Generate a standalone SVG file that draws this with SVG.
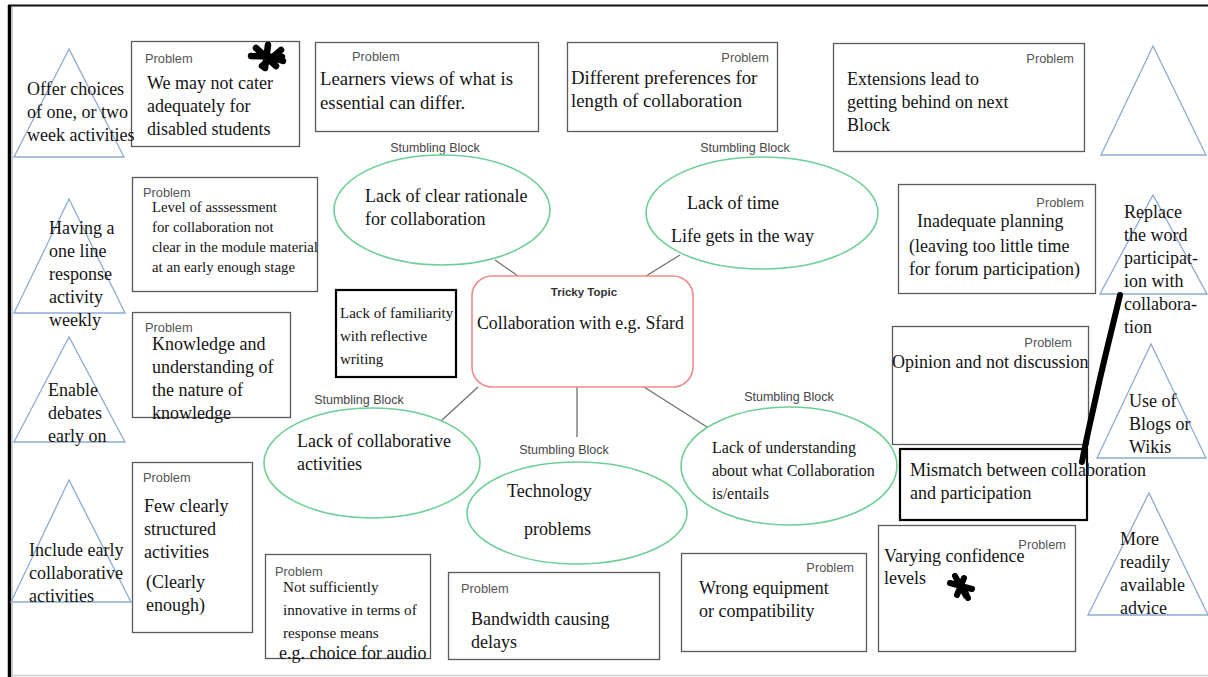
<svg xmlns="http://www.w3.org/2000/svg" width="1208" height="677" viewBox="0 0 1208 677">
  <style>
    .t{font-family:"Liberation Serif","Times New Roman",serif;font-size:18px;fill:#141414}
    .big{font-size:18.8px}
    .topic{font-size:17.8px}
    .s16{font-size:16px}
    .s15{font-size:15.2px}
    .f15{font-size:15px}
    .s14{font-size:14.8px}
    .lbl{font-family:"Liberation Sans",Arial,sans-serif;font-size:12.8px;fill:#555}
    .sb{font-family:"Liberation Sans",Arial,sans-serif;font-size:12.5px;fill:#444;text-anchor:middle}
    .end{text-anchor:end}
    .prob{fill:none;stroke:#5a5a5a;stroke-width:1.3}
    .heavy{fill:none;stroke:#000;stroke-width:2.2}
    .tri{fill:none;stroke:#8eaad0;stroke-width:1.3}
    .ell{fill:none;stroke:#6dcf95;stroke-width:1.6}
    .link{stroke:#707070;stroke-width:1.3;fill:none}
    .ink{stroke:#000;stroke-linecap:round;stroke-linejoin:round;fill:none}
  </style>

  <rect width="1208" height="677" fill="#fff"/>

  <!-- page frame -->
  <g id="frame">
    <line x1="8" y1="5.5" x2="1208" y2="5.5" stroke="#111" stroke-width="2"/>
    <line x1="9.5" y1="5" x2="9.5" y2="677" stroke="#000" stroke-width="3.5"/>
    <line x1="12.5" y1="7" x2="12.5" y2="677" stroke="#ccc" stroke-width="1"/>
    <line x1="12" y1="675.5" x2="1208" y2="675.5" stroke="#d0d0d0" stroke-width="1.5"/>
  </g>

  <!-- connectors between the topic and the stumbling blocks -->
  <g id="connectors">
    <line class="link" x1="495" y1="260" x2="518" y2="276"/>
    <line class="link" x1="680" y1="255" x2="646" y2="276"/>
    <line class="link" x1="478" y1="387" x2="441" y2="421"/>
    <line class="link" x1="577" y1="387" x2="577" y2="437"/>
    <line class="link" x1="644" y1="387" x2="707" y2="427"/>
  </g>

  <!-- central topic -->
  <g id="topic">
    <rect x="472" y="276" width="221" height="111" rx="20" fill="none" stroke="#f08a8a" stroke-width="1.6"/>
    <text x="584" y="296" font-family="Liberation Sans,Arial,sans-serif" font-size="11.5" font-weight="bold" fill="#333" text-anchor="middle">Tricky Topic</text>
    <text class="t topic" x="477" y="329">Collaboration with e.g. Sfard</text>
  </g>

  <!-- stumbling blocks -->
  <g id="sb-rationale">
    <text class="sb" x="435" y="152">Stumbling Block</text>
    <ellipse class="ell" cx="442" cy="210" rx="108" ry="55"/>
    <text class="t" x="365" y="202">Lack of clear rationale</text>
    <text class="t" x="365" y="225">for collaboration</text>
  </g>
  <g id="sb-time">
    <text class="sb" x="745" y="152">Stumbling Block</text>
    <ellipse class="ell" cx="762" cy="213" rx="116" ry="56"/>
    <text class="t" x="687" y="209">Lack of time</text>
    <text class="t" x="671" y="242">Life gets in the way</text>
  </g>
  <g id="sb-activities">
    <text class="sb" x="359" y="404">Stumbling Block</text>
    <ellipse class="ell" cx="372" cy="463" rx="108" ry="55"/>
    <text class="t" x="297" y="447">Lack of collaborative</text>
    <text class="t" x="297" y="470">activities</text>
  </g>
  <g id="sb-technology">
    <text class="sb" x="564" y="454">Stumbling Block</text>
    <ellipse class="ell" cx="577" cy="513" rx="110" ry="51"/>
    <text class="t" x="507" y="497">Technology</text>
    <text class="t" x="524" y="535">problems</text>
  </g>
  <g id="sb-understanding">
    <text class="sb" x="789" y="401">Stumbling Block</text>
    <ellipse class="ell" cx="789" cy="466" rx="108" ry="59"/>
    <text class="t s16" x="712" y="453">Lack of understanding</text>
    <text class="t s16" x="712" y="476">about what Collaboration</text>
    <text class="t s16" x="712" y="499">is/entails</text>
  </g>

  <!-- problems -->
  <g id="p-disabled">
    <rect class="prob" x="131.5" y="41.5" width="168" height="105"/>
    <text class="lbl" x="145" y="63">Problem</text>
    <text class="t" x="147" y="89">We may not cater</text>
    <text class="t" x="147" y="112">adequately for</text>
    <text class="t" x="147" y="135">disabled students</text>
  </g>
  <g id="p-views">
    <rect class="prob" x="315.5" y="42.5" width="223" height="89"/>
    <text class="lbl" x="352" y="61">Problem</text>
    <text class="t big" x="320" y="85">Learners views of what is</text>
    <text class="t big" x="320" y="109">essential can differ.</text>
  </g>
  <g id="p-length">
    <rect class="prob" x="567.5" y="42.5" width="210" height="89"/>
    <text class="lbl end" x="769" y="62">Problem</text>
    <text class="t big" x="571" y="84">Different preferences for</text>
    <text class="t big" x="571" y="107">length of collaboration</text>
  </g>
  <g id="p-extensions">
    <rect class="prob" x="833.5" y="43.5" width="251" height="108"/>
    <text class="lbl end" x="1074" y="63">Problem</text>
    <text class="t" x="847" y="85">Extensions lead to</text>
    <text class="t" x="847" y="108">getting behind on next</text>
    <text class="t" x="847" y="131">Block</text>
  </g>
  <g id="p-assessment">
    <rect class="prob" x="132.5" y="177.5" width="185" height="114"/>
    <text class="lbl" x="143" y="197">Problem</text>
    <text class="t s14" x="152" y="212">Level of asssessment</text>
    <text class="t s14" x="152" y="232">for collaboration not</text>
    <text class="t s14" x="152" y="252">clear in the module material</text>
    <text class="t s14" x="152" y="272">at an early enough stage</text>
  </g>
  <g id="p-knowledge">
    <rect class="prob" x="132.5" y="312.5" width="158" height="105"/>
    <text class="lbl" x="145" y="332">Problem</text>
    <text class="t" x="152" y="350">Knowledge and</text>
    <text class="t" x="152" y="373">understanding of</text>
    <text class="t" x="152" y="396">the nature of</text>
    <text class="t" x="152" y="419">knowledge</text>
  </g>
  <g id="p-structured">
    <rect class="prob" x="132.5" y="462.5" width="120" height="170"/>
    <text class="lbl" x="143" y="482">Problem</text>
    <text class="t" x="144" y="512">Few clearly</text>
    <text class="t" x="144" y="535">structured</text>
    <text class="t" x="144" y="558">activities</text>
    <text class="t" x="146" y="588">(Clearly</text>
    <text class="t" x="146" y="611">enough)</text>
  </g>
  <g id="p-innovative">
    <rect class="prob" x="265.5" y="554.5" width="165" height="104"/>
    <text class="lbl" x="275" y="576">Problem</text>
    <text class="t s15" x="283" y="592">Not sufficiently</text>
    <text class="t s15" x="283" y="615">innovative in terms of</text>
    <text class="t s15" x="283" y="638">response means</text>
    <text class="t" x="279" y="659">e.g. choice for audio</text>
  </g>
  <g id="p-bandwidth">
    <rect class="prob" x="448.5" y="572.5" width="211" height="87"/>
    <text class="lbl" x="461" y="593">Problem</text>
    <text class="t" x="471" y="625">Bandwidth causing</text>
    <text class="t" x="471" y="648">delays</text>
  </g>
  <g id="p-equipment">
    <rect class="prob" x="681.5" y="553.5" width="185" height="98"/>
    <text class="lbl end" x="854" y="572">Problem</text>
    <text class="t" x="699" y="594">Wrong equipment</text>
    <text class="t" x="699" y="617">or compatibility</text>
  </g>
  <g id="p-confidence">
    <rect class="prob" x="878.5" y="525.5" width="197" height="126"/>
    <text class="lbl end" x="1066" y="549">Problem</text>
    <text class="t" x="884" y="562">Varying confidence</text>
    <text class="t" x="884" y="584">levels</text>
  </g>
  <g id="p-planning">
    <rect class="prob" x="898.5" y="184.5" width="197" height="109"/>
    <text class="lbl end" x="1084" y="207">Problem</text>
    <text class="t" x="917" y="227">Inadequate planning</text>
    <text class="t" x="909" y="252">(leaving too little time</text>
    <text class="t" x="909" y="275">for forum participation)</text>
  </g>
  <g id="p-opinion">
    <rect class="prob" x="892.5" y="326.5" width="196" height="118"/>
    <text class="lbl end" x="1072" y="347">Problem</text>
    <text class="t" x="892" y="368">Opinion and not discussion</text>
  </g>

  <!-- boxed notes -->
  <g id="n-reflective">
    <rect class="heavy" x="336" y="290" width="120" height="87"/>
    <text class="t f15" x="340" y="318">Lack of familiarity</text>
    <text class="t f15" x="340" y="341">with reflective</text>
    <text class="t f15" x="340" y="364">writing</text>
  </g>
  <g id="n-mismatch">
    <rect class="heavy" x="900" y="449" width="187" height="71"/>
    <text class="t" x="910" y="476">Mismatch between collaboration</text>
    <text class="t" x="910" y="499">and participation</text>
  </g>

  <!-- solutions (left) -->
  <g id="s-choices">
    <polygon class="tri" points="69,49 14,157 124,157"/>
    <text class="t" x="27" y="95">Offer choices</text>
    <text class="t" x="27" y="118">of one, or two</text>
    <text class="t" x="27" y="141">week activities</text>
  </g>
  <g id="s-oneline">
    <polygon class="tri" points="69,199 14,313 125,313"/>
    <text class="t" x="49" y="234">Having a</text>
    <text class="t" x="49" y="257">one line</text>
    <text class="t" x="49" y="280">response</text>
    <text class="t" x="49" y="303">activity</text>
    <text class="t" x="49" y="326">weekly</text>
  </g>
  <g id="s-debates">
    <polygon class="tri" points="69,337 14,442 125,442"/>
    <text class="t" x="48" y="396">Enable</text>
    <text class="t" x="48" y="419">debates</text>
    <text class="t" x="48" y="442">early on</text>
  </g>
  <g id="s-early">
    <polygon class="tri" points="69,480 11,602 131,602"/>
    <text class="t" x="29" y="556">Include early</text>
    <text class="t" x="29" y="579">collaborative</text>
    <text class="t" x="29" y="602">activities</text>
  </g>

  <!-- solutions (right) -->
  <g id="s-empty">
    <polygon class="tri" points="1153,46 1101,155 1206,155"/>
  </g>
  <g id="s-replace">
    <polygon class="tri" points="1153,195 1100,294 1207,294"/>
    <text class="t" x="1124" y="218">Replace</text>
    <text class="t" x="1124" y="241">the word</text>
    <text class="t" x="1124" y="264">participat-</text>
    <text class="t" x="1124" y="287">ion with</text>
    <text class="t" x="1124" y="310">collabora-</text>
    <text class="t" x="1124" y="333">tion</text>
  </g>
  <g id="s-blogs">
    <polygon class="tri" points="1151,344 1097,458 1206,458"/>
    <text class="t" x="1129" y="407">Use of</text>
    <text class="t" x="1129" y="430">Blogs or</text>
    <text class="t" x="1129" y="453">Wikis</text>
  </g>
  <g id="s-advice">
    <polygon class="tri" points="1149,493 1088,615 1208,615"/>
    <text class="t" x="1120" y="545">More</text>
    <text class="t" x="1120" y="568">readily</text>
    <text class="t" x="1120" y="591">available</text>
    <text class="t" x="1120" y="614">advice</text>
  </g>

  <!-- hand-drawn marks -->
  <g id="marks">
    <path class="ink" stroke-width="6" d="M1120,295 C1113,325 1104,360 1097,392 S1086,440 1082,462"/>
    <path class="ink" stroke-width="6.5" d="M251,56 L282,57 M256,48 L276,66 M268,45 L265,68 M281,50 L262,66 M283,61 L270,57"/>
    <path class="ink" stroke-width="6" d="M950,583 L972,589 M955,576 L966,596 M964,578 L957,595 M968,598 L962,585"/>
  </g>
</svg>
